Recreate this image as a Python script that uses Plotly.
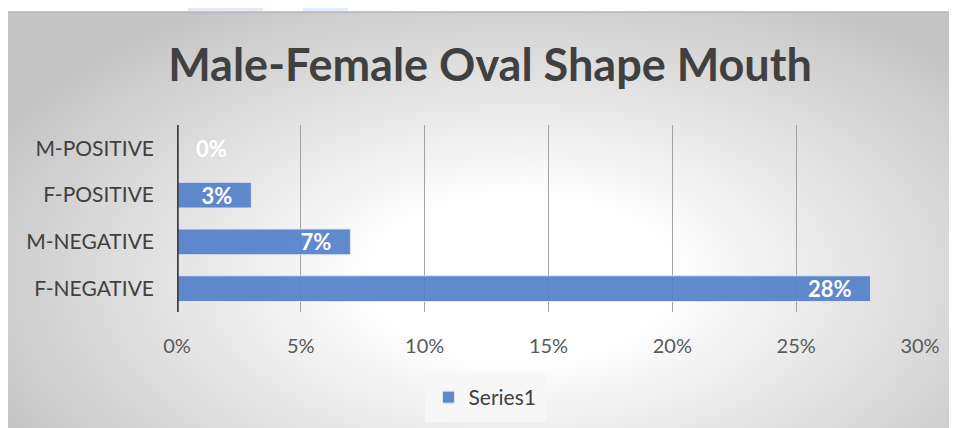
import base64
import plotly.graph_objects as go

categories = ["F-NEGATIVE", "M-NEGATIVE", "F-POSITIVE", "M-POSITIVE"]
values = [28, 7, 3, 0]
tick_vals = [0, 5, 10, 15, 20, 25, 30]
tick_text = ["0%", "5%", "10%", "15%", "20%", "25%", "30%"]
series_name = "Series1"
title_text = "Male-Female Oval Shape Mouth"

# the page body has an 8px default margin; design in screen pixels
OX, OY = 8, 8
W, H = 957 - OX, 428 - OY
PL, PR, PT, PB = 177, 920, 125, 312          # plot area in screen px
L, R, T, B = PL - OX, (957) - PR, PT - OY, 428 - PB
pw, ph = PR - PL, PB - PT

def px_x(px):
    return (px - PL) / pw

def px_y(py):
    return (PB - py) / ph

svg = '''<svg xmlns="http://www.w3.org/2000/svg" width="949" height="416" viewBox="0 0 949 416" preserveAspectRatio="none">
<defs><radialGradient id="g" cx="0.54" cy="0.64" r="0.62" gradientTransform="translate(0.54,0.64) scale(1,1.25) translate(-0.54,-0.64)">
<stop offset="0" stop-color="#ffffff"/><stop offset="0.25" stop-color="#ffffff"/><stop offset="1" stop-color="#c4c4c4"/></radialGradient></defs>
<rect width="949" height="416" fill="url(#g)"/></svg>'''
src = "data:image/svg+xml;base64," + base64.b64encode(svg.encode()).decode()

nb = "\u00a0"
texts = []
positions = []
for v in values:
    if v == 0:
        texts.append(nb * 3 + f"{v}%")
        positions.append("outside")
    else:
        texts.append(f"{v}%" + nb * 3)
        positions.append("inside")

lbl_font = dict(family="Lato", size=22, color="white", weight="bold")
fig = go.Figure(go.Bar(
    x=values, y=categories, orientation="h", name=series_name,
    marker=dict(color="rgba(84,127,201,0.92)", line=dict(color="rgba(225,232,245,0.9)", width=1)),
    text=texts, texttemplate="%{text}", textposition=positions, insidetextanchor="end",
    constraintext="none",
    textfont=lbl_font, outsidetextfont=lbl_font, insidetextfont=lbl_font,
    cliponaxis=False, showlegend=True, hoverinfo="skip",
))

fig.update_layout(
    width=W, height=H,
    margin=dict(l=L, r=R, t=T, b=B, autoexpand=False),
    paper_bgcolor="white", plot_bgcolor="rgba(0,0,0,0)",
    title=dict(text=title_text, x=(490 - OX) / W, xanchor="center",
               y=1 - (65 - OY) / H, yanchor="middle",
               font=dict(family="Lato", size=45, color="#404040", weight="bold")),
    bargap=0.45,
    xaxis=dict(range=[0, 30], tickvals=tick_vals, ticktext=tick_text,
               showgrid=True, gridcolor="#a3a3a3", gridwidth=1,
               zeroline=False, showline=False, ticks="",
               tickfont=dict(family="Lato", size=20, color="#595959"),
               ticklabelstandoff=20, fixedrange=True),
    yaxis=dict(range=[-0.5, 3.5], showgrid=False, zeroline=False, ticks="",
               showline=False,
               tickfont=dict(family="Lato", size=21, color="#404040"),
               ticklabelstandoff=22, fixedrange=True),
    legend=dict(orientation="h", x=(485 - OX) / W, xref="container", xanchor="center",
                y=1 - (373 - OY) / H, yref="container", yanchor="top",
                bgcolor="#f7f7f7", bordercolor="#f7f7f7", borderwidth=4,
                font=dict(family="Lato", size=21, color="#404040"),
                itemwidth=30),
    images=[dict(source=src, xref="paper", yref="paper", x=px_x(8), y=px_y(12),
                 sizex=949 / pw, sizey=416 / ph, sizing="stretch", layer="below",
                 xanchor="left", yanchor="top")],
    shapes=[
        dict(type="line", xref="x", yref="paper", x0=0, x1=0, y0=0, y1=1,
             line=dict(color="#404040", width=3.5), layer="above"),
        dict(type="line", xref="paper", yref="paper", x0=px_x(8), x1=px_x(957),
             y0=px_y(12), y1=px_y(12), line=dict(color="#b5b5b5", width=1.5)),
        dict(type="rect", xref="paper", yref="paper", x0=px_x(188), x1=px_x(263),
             y0=px_y(8), y1=px_y(11), line=dict(width=0), fillcolor="#e9e8f6", layer="below"),
        dict(type="rect", xref="paper", yref="paper", x0=px_x(303), x1=px_x(348),
             y0=px_y(8), y1=px_y(11), line=dict(width=0), fillcolor="#e4edfb", layer="below"),
    ],
)

fig.write_html("out.html", config={"displayModeBar": False, "responsive": False})
